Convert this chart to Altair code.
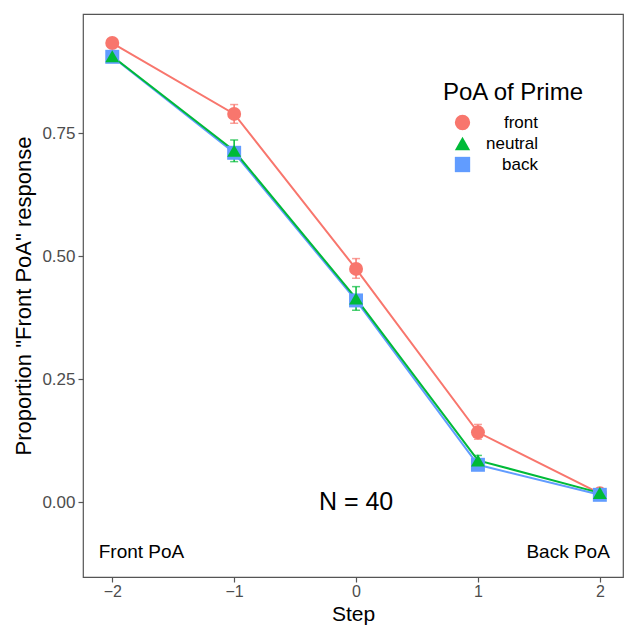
import altair as alt
import pandas as pd

steps = [-2, -1, 0, 1, 2]
primes = ["front", "neutral", "back"]
front_mean = [0.933, 0.789, 0.474, 0.142, 0.018]
front_lo = [0.925, 0.770, 0.455, 0.128, 0.012]
front_hi = [0.941, 0.808, 0.495, 0.158, 0.024]
neutral_mean = [0.906, 0.714, 0.414, 0.085, 0.019]
neutral_lo = [0.898, 0.692, 0.390, 0.075, 0.013]
neutral_hi = [0.914, 0.736, 0.438, 0.095, 0.025]
back_mean = [0.905, 0.710, 0.410, 0.076, 0.015]
back_lo = [0.897, 0.700, 0.400, 0.068, 0.010]
back_hi = [0.913, 0.720, 0.420, 0.084, 0.020]

colors = ["#F8766D", "#00BA38", "#619CFF"]
shapes = ["circle", "triangle-up", "square"]

series = {
    "front": (front_mean, front_lo, front_hi),
    "back": (back_mean, back_lo, back_hi),
    "neutral": (neutral_mean, neutral_lo, neutral_hi),
}
rows = []
for name, (m, lo, hi) in series.items():
    for s, a, b, c in zip(steps, m, lo, hi):
        rows.append({"step": s, "prime": name, "mean": a, "lo": b, "hi": c})
df = pd.DataFrame(rows)

ann_text = ["Front PoA", "Back PoA"]
ann_x = [-1.76, 1.74]
ann_y = [-0.102, -0.102]
ann = pd.DataFrame({"label": ann_text, "step": ann_x, "y": ann_y})
n_df = pd.DataFrame({"label": ["N = 40"], "step": [0], "y": [0.0]})
title_df = pd.DataFrame({"label": ["PoA of Prime"], "step": [0.713], "y": [0.817]})

FONT = "Liberation Sans"
xscale = alt.Scale(domain=[-2.24, 2.19], nice=False, zero=False)
yscale = alt.Scale(domain=[-0.152, 0.992], nice=False, zero=False)
cscale = alt.Scale(domain=primes, range=colors)

x = alt.X("step:Q", scale=xscale, title="Step",
          axis=alt.Axis(values=steps, format="d", grid=False, domain=False,
                        tickSize=5, tickColor="#555", tickWidth=1.2,
                        labelColor="#4d4d4d",
                        labelFontSize=16, titleFontSize=21, titleColor="black",
                        titleFontWeight="normal", labelPadding=1, titlePadding=4,
                        labelFont=FONT, titleFont=FONT))
y = alt.Y("mean:Q", scale=yscale, title='Proportion "Front PoA" response',
          axis=alt.Axis(values=[0, 0.25, 0.5, 0.75], format=".2f", grid=False,
                        domain=False, tickSize=5, tickColor="#555", tickWidth=1.2,
                        labelColor="#4d4d4d", labelFontSize=17, titleFontSize=22,
                        titleColor="black", titleFontWeight="normal",
                        labelPadding=3, titlePadding=6,
                        labelFont=FONT, titleFont=FONT))

color_leg = alt.Color("prime:N", scale=cscale,
                      legend=alt.Legend(title=None, orient="none", legendX=371,
                                        legendY=100, symbolSize=235,
                                        symbolOpacity=1,
                                        labelFontSize=17, labelFont=FONT,
                                        labelAlign="right", labelOffset=67,
                                        rowPadding=3, symbolStrokeWidth=0,
                                        labelColor="black"))
shape = alt.Shape("prime:N", scale=alt.Scale(domain=primes, range=shapes))
color = alt.Color("prime:N", scale=cscale)

base = alt.Chart(df)
lines = base.mark_line(strokeWidth=2).encode(x=x, y=y, color=color, detail="prime:N")
err = base.mark_rule(strokeWidth=1.5).encode(x="step:Q", y="lo:Q", y2="hi:Q", color=color)
cap_lo = base.mark_tick(thickness=1.5, size=8, orient="horizontal").encode(
    x="step:Q", y="lo:Q", color=color)
cap_hi = base.mark_tick(thickness=1.5, size=8, orient="horizontal").encode(
    x="step:Q", y="hi:Q", color=color)
points = base.mark_point(filled=True, size=195, opacity=1).encode(
    x=x, y=y, color=color_leg, shape=shape, opacity=alt.value(1))

ann_layer = alt.Chart(ann).mark_text(fontSize=19, font=FONT, color="black").encode(
    x="step:Q", y="y:Q", text="label:N")
n_layer = alt.Chart(n_df).mark_text(fontSize=25, font=FONT, color="black").encode(
    x="step:Q", y="y:Q", text="label:N")
leg_title = alt.Chart(title_df).mark_text(fontSize=24, font=FONT, color="black",
                                          align="left", baseline="alphabetic").encode(
    x="step:Q", y="y:Q", text="label:N")

chart = alt.layer(lines, err, cap_lo, cap_hi, points, ann_layer, n_layer, leg_title).properties(
    width=540, height=563,
    padding={"left": 83, "top": 14, "right": 3, "bottom": 53},
    autosize=alt.AutoSizeParams(type="none"),
    background="white",
).configure_view(stroke="#555", strokeWidth=1.2).configure_point(
    opacity=1).configure_legend(symbolOpacity=1)

chart.save("out.html", embed_options={"renderer": "svg", "actions": False})
